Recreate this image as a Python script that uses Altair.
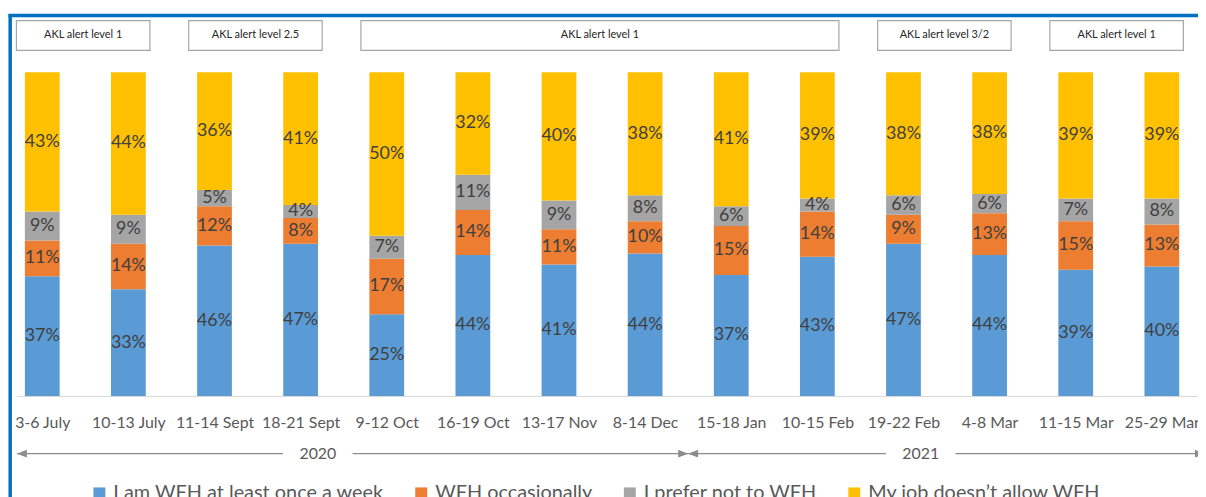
import json
import altair as alt
import pandas as pd

# ---------------- data ----------------
categories = ["3-6 July", "10-13 July", "11-14 Sept", "18-21 Sept", "9-12 Oct",
              "16-19 Oct", "13-17 Nov", "8-14 Dec", "15-18 Jan", "10-15 Feb",
              "19-22 Feb", "4-8 Mar", "11-15 Mar", "25-29 Mar"]
series_names = ["I am WFH at least once a week", "WFH occasionally",
                "I prefer not to WFH", "My job doesn\u2019t allow WFH"]
wfh_weekly = [37, 33, 46, 47, 25, 44, 41, 44, 37, 43, 47, 44, 39, 40]
wfh_occasional = [11, 14, 12, 8, 17, 14, 11, 10, 15, 14, 9, 13, 15, 13]
prefer_not = [9, 9, 5, 4, 7, 11, 9, 8, 6, 4, 6, 6, 7, 8]
not_allowed = [43, 44, 36, 41, 50, 32, 40, 38, 41, 39, 38, 38, 39, 39]
series_colors = ["#5B9BD5", "#ED7D31", "#A5A5A5", "#FFC000"]

alert_labels = ["AKL alert level 1", "AKL alert level 2.5", "AKL alert level 1",
                "AKL alert level 3/2", "AKL alert level 1"]
alert_first = ["3-6 July", "11-14 Sept", "9-12 Oct", "19-22 Feb", "11-15 Mar"]
alert_last = ["10-13 July", "18-21 Sept", "10-15 Feb", "4-8 Mar", "25-29 Mar"]

years = ["2020", "2021"]
year_first = ["3-6 July", "15-18 Jan"]
year_last = ["8-14 Dec", "25-29 Mar"]

# ---------------- layout ----------------
STEP = 86.7
PAD_LEFT = 9
PLOT_W = 1189
PLOT_H = 326
PAD_TOP = 63
PAD_BOTTOM = 100
XMIN = -25.5 / STEP
XMAX = XMIN + PLOT_W / STEP
FONT = "Lato"

idx_of = {c: i for i, c in enumerate(categories)}
xscale = alt.Scale(domain=[XMIN, XMAX], nice=False, zero=False, padding=0)
xaxis = alt.Axis(values=list(range(len(categories))),
                 labelExpr=f"{json.dumps(categories)}[datum.value]",
                 labelFlush=False, labelOverlap=False, labelBound=False,
                 ticks=False, grid=False, domainColor="#D9D9D9", domainWidth=1,
                 labelFont=FONT, labelFontSize=16, labelColor="#595959",
                 labelPadding=19, title=None)


def X(field):
    return alt.X(field, scale=xscale, axis=xaxis)


rows = []
for s_i, (name, vals) in enumerate(zip(series_names,
                                       [wfh_weekly, wfh_occasional, prefer_not, not_allowed])):
    for c_i, (cat, v) in enumerate(zip(categories, vals)):
        rows.append({"idx": c_i, "category": cat, "series": name, "order": s_i, "value": v})
bar_df = pd.DataFrame(rows)

alert_df = pd.DataFrame({
    "label": alert_labels,
    "x0": [idx_of[c] - 0.3 for c in alert_first],
    "x1": [idx_of[c] + 0.25 for c in alert_last],
})
alert_df["xm"] = (alert_df["x0"] + alert_df["x1"]) / 2

year_df = pd.DataFrame({
    "year": years,
    "start": [max(idx_of[c] - 0.5, XMIN) for c in year_first],
    "end": [idx_of[c] + 0.5 for c in year_last],
    "mid": [(idx_of[a] + idx_of[b]) / 2 - 0.3 for a, b in zip(year_first, year_last)],
})

frame_df = pd.DataFrame({"frame": [0]})

# ---------------- layers ----------------
base = alt.Chart(bar_df).transform_stack(
    stack="value", groupby=["idx"], sort=[alt.SortField("order")],
    as_=["y0", "y1"], offset="normalize"
).transform_calculate(ymid="(datum.y0 + datum.y1) / 2", label="datum.value + '%'")

bars = base.mark_bar(size=35).encode(
    x=X("idx:Q"),
    y=alt.Y("y0:Q", scale=alt.Scale(domain=[0, 1]), axis=None),
    y2="y1:Q",
    color=alt.Color("series:N",
                    scale=alt.Scale(domain=series_names, range=series_colors),
                    legend=alt.Legend(title=None, orient="none", legendX=73, legendY=414,
                                      direction="horizontal", symbolType="square",
                                      symbolSize=144, symbolStrokeWidth=0,
                                      labelFont=FONT, labelFontSize=20,
                                      labelColor="#595959", columnPadding=27,
                                      labelOffset=4, padding=0, labelLimit=0)),
)
bar_labels = base.mark_text(font=FONT, fontSize=18, color="#404040").encode(
    x=X("idx:Q"),
    y=alt.Y("ymid:Q", scale=alt.Scale(domain=[0, 1]), axis=None),
    text="label:N")

frame_left = alt.Chart(frame_df).mark_rule(color="#0070C0", strokeWidth=3.5).encode(
    x=alt.value(-6.8), y=alt.value(-58.5), y2=alt.value(PLOT_H + PAD_BOTTOM + 5))
frame_top = alt.Chart(frame_df).mark_rule(color="#0070C0", strokeWidth=3.5).encode(
    x=alt.value(-8.5), x2=alt.value(PLOT_W + 5), y=alt.value(-57))

boxes = alt.Chart(alert_df).mark_rect(fill="white", stroke="#A6A6A6", strokeWidth=1.2).encode(
    x=X("x0:Q"), x2="x1:Q", y=alt.value(-52), y2=alt.value(-22))
box_text = alt.Chart(alert_df).mark_text(font=FONT, fontSize=11, color="#262626").encode(
    x=X("xm:Q"), y=alt.value(-37), text="label:N")

YL = 384
year_rule = alt.Chart(year_df).mark_rule(color="#8C8C8C", strokeWidth=1.2).encode(
    x=X("start:Q"), x2="end:Q", y=alt.value(YL))
year_mask = alt.Chart(year_df).mark_point(
    shape="M-1,-0.25L1,-0.25L1,0.25L-1,0.25Z", filled=True, color="white",
    size=4900, opacity=1, strokeWidth=0).encode(x=X("mid:Q"), y=alt.value(YL))
year_text = alt.Chart(year_df).mark_text(font=FONT, fontSize=16, color="#595959").encode(
    x=X("mid:Q"), y=alt.value(YL), text="year:N")
arrow_l = alt.Chart(year_df).mark_point(
    shape="M0,0L2,-0.8L2,0.8Z", filled=True, color="#8C8C8C", size=100,
    opacity=1, strokeWidth=0).encode(x=X("start:Q"), y=alt.value(YL))
arrow_r = alt.Chart(year_df).mark_point(
    shape="M0,0L-2,-0.8L-2,0.8Z", filled=True, color="#8C8C8C", size=100,
    opacity=1, strokeWidth=0).encode(x=X("end:Q"), y=alt.value(YL))

chart = alt.layer(
    bars, bar_labels, frame_left, frame_top, boxes, box_text,
    year_rule, year_mask, year_text, arrow_l, arrow_r
).properties(
    width=PLOT_W, height=PLOT_H,
    autosize=alt.AutoSizeParams(type="none"),
    padding={"left": PAD_LEFT, "top": PAD_TOP, "right": 0, "bottom": PAD_BOTTOM},
    background="white",
).configure_view(stroke=None)

chart.save("out.html", embed_options={"renderer": "svg", "actions": False})
